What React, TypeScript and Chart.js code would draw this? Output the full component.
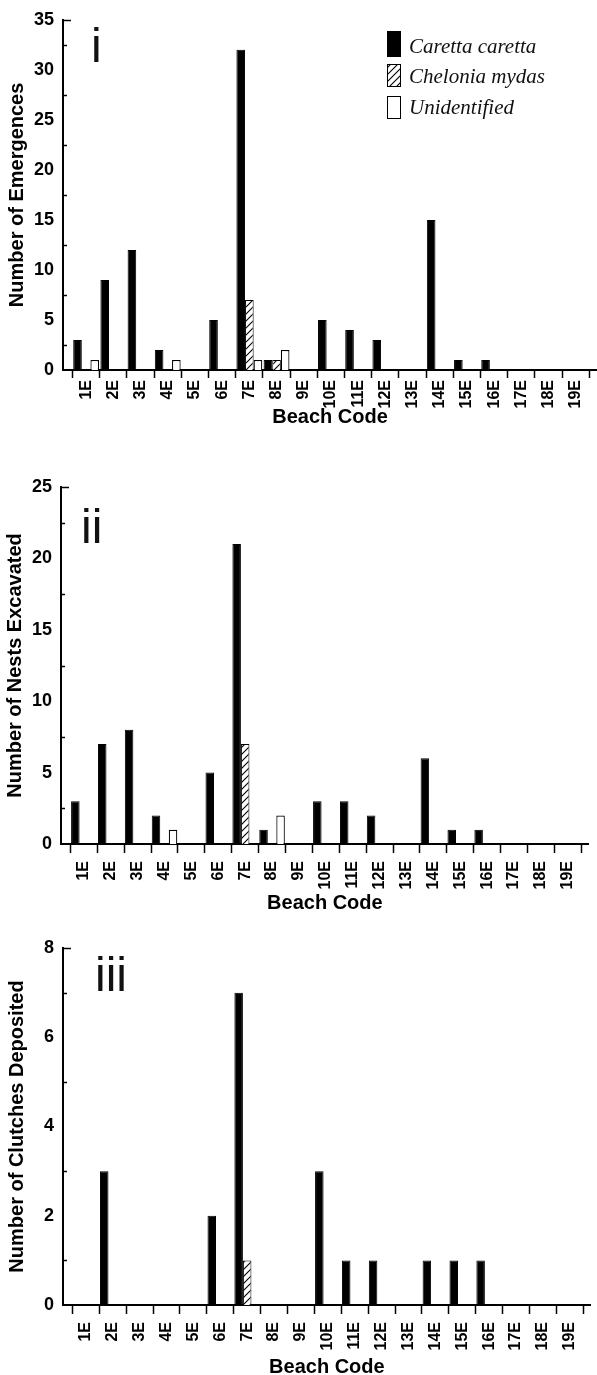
import React, { useEffect, useRef } from 'react';
import { Chart, registerables } from 'chart.js';

Chart.register(...registerables);

// ---------- data ----------
const BEACHES = ['1E', '2E', '3E', '4E', '5E', '6E', '7E', '8E', '9E', '10E', '11E', '12E', '13E', '14E', '15E', '16E', '17E', '18E', '19E'];
const SERIES = ['Caretta caretta', 'Chelonia mydas', 'Unidentified'];

const EMERG_CARETTA = [3, 9, 12, 2, 0, 5, 32, 1, 0, 5, 4, 3, 0, 15, 1, 1, 0, 0, 0];
const EMERG_CHELONIA = [0, 0, 0, 0, 0, 0, 7, 1, 0, 0, 0, 0, 0, 0, 0, 0, 0, 0, 0];
const EMERG_UNIDENT = [1, 0, 0, 1, 0, 0, 1, 2, 0, 0, 0, 0, 0, 0, 0, 0, 0, 0, 0];

const NESTS_CARETTA = [3, 7, 8, 2, 0, 5, 21, 1, 0, 3, 3, 2, 0, 6, 1, 1, 0, 0, 0];
const NESTS_CHELONIA = [0, 0, 0, 0, 0, 0, 7, 0, 0, 0, 0, 0, 0, 0, 0, 0, 0, 0, 0];
const NESTS_UNIDENT = [0, 0, 0, 1, 0, 0, 0, 2, 0, 0, 0, 0, 0, 0, 0, 0, 0, 0, 0];

const CLUTCH_CARETTA = [0, 3, 0, 0, 0, 2, 7, 0, 0, 3, 1, 1, 0, 1, 1, 1, 0, 0, 0];
const CLUTCH_CHELONIA = [0, 0, 0, 0, 0, 0, 1, 0, 0, 0, 0, 0, 0, 0, 0, 0, 0, 0, 0];
const CLUTCH_UNIDENT = [0, 0, 0, 0, 0, 0, 0, 0, 0, 0, 0, 0, 0, 0, 0, 0, 0, 0, 0];

const Y_TITLES = ['Number of Emergences', 'Number of Nests Excavated', 'Number of Clutches Deposited'];
const X_TITLE = 'Beach Code';
const PANEL_LABELS = ['i', 'ii', 'iii'];
const Y_MAX = [35, 25, 8];
const Y_MINOR = [2.5, 2.5, 1];
const Y_MAJOR = [5, 5, 2];

const PANEL_DATA = [
  [EMERG_CARETTA, EMERG_CHELONIA, EMERG_UNIDENT],
  [NESTS_CARETTA, NESTS_CHELONIA, NESTS_UNIDENT],
  [CLUTCH_CARETTA, CLUTCH_CHELONIA, CLUTCH_UNIDENT],
];

// ---------- layout ----------
const X_MIN = 0.15;
const X_MAX = 19.78;
const Y_AXIS_W = 63;
const SANS = "'Liberation Sans', Arial, Helvetica, sans-serif";
const SERIF = "'Liberation Serif', 'Times New Roman', serif";

const LAYOUT = [
  { top: 0, left: 0, height: 428, padTop: 15, xAxisH: 58, tickLen: 8, labelPad: 2, titlePad: 1, numX: 91, numY: 62, legend: true },
  { top: 445, left: -2, height: 475, padTop: 42, xAxisH: 76, tickLen: 9, labelPad: 8, titlePad: 7, numX: 83, numY: 98, legend: false },
  { top: 925, left: 0, height: 450, padTop: 23, xAxisH: 70, tickLen: 9, labelPad: 8, titlePad: -2, numX: 95, numY: 66, legend: false },
];

function makeHatch(): CanvasPattern | string {
  const s = 7;
  const c = document.createElement('canvas');
  c.width = s;
  c.height = s;
  const g = c.getContext('2d');
  if (!g) return '#888';
  g.fillStyle = '#fff';
  g.fillRect(0, 0, s, s);
  g.strokeStyle = '#000';
  g.lineWidth = 1.1;
  g.beginPath();
  g.moveTo(-1, s + 1);
  g.lineTo(s + 1, -1);
  g.moveTo(-1, 1);
  g.lineTo(1, -1);
  g.moveTo(s - 1, s + 1);
  g.lineTo(s + 1, s - 1);
  g.stroke();
  return g.createPattern(c, 'repeat') || '#888';
}

function toPts(values: number[]) {
  return values.map((v, i) => ({ x: i + 1, y: v }));
}

function Panel({ idx }: { idx: number }) {
  const ref = useRef<HTMLCanvasElement>(null);
  const L = LAYOUT[idx];
  const width = 597;

  useEffect(() => {
    if (!ref.current) return;
    const hatch = makeHatch();
    const [car, che, uni] = PANEL_DATA[idx];
    const major = Y_MAJOR[idx];

    const decor = {
      id: 'decor' + idx,
      afterDraw(chart: any) {
        const ctx = chart.ctx as CanvasRenderingContext2D;
        const y = chart.scales.y;
        const left = chart.chartArea.left;
        ctx.save();
        // inward minor ticks and top cap on y axis
        ctx.strokeStyle = '#000';
        ctx.lineWidth = 1.5;
        y.ticks.forEach((t: any) => {
          const py = Math.round(y.getPixelForValue(t.value)) + 0.5;
          let len = 0;
          if (Math.abs(t.value - y.max) < 1e-9) len = 8;
          else if (Math.abs(t.value / major - Math.round(t.value / major)) > 1e-9) len = 4;
          if (len) {
            ctx.beginPath();
            ctx.moveTo(left, py);
            ctx.lineTo(left + len, py);
            ctx.stroke();
          }
        });
        // panel numeral
        ctx.fillStyle = '#111';
        ctx.font = `48px ${SANS}`;
        ctx.textAlign = 'left';
        ctx.textBaseline = 'alphabetic';
        ctx.fillText(PANEL_LABELS[idx], L.numX, L.numY);
        // legend
        if (L.legend) {
          const rows = [{ y: 31, h: 26, b: 53 }, { y: 64, h: 23, b: 83 }, { y: 96, h: 23, b: 114 }];
          chart.data.datasets.forEach((ds: any, i: number) => {
            const r = rows[i];
            ctx.fillStyle = ds.backgroundColor;
            ctx.fillRect(387, r.y, 14, r.h);
            ctx.strokeStyle = '#000';
            ctx.lineWidth = 1;
            ctx.strokeRect(387.5, r.y + 0.5, 13, r.h - 1);
            ctx.fillStyle = '#111';
            ctx.font = `italic 21px ${SERIF}`;
            ctx.textBaseline = 'alphabetic';
            ctx.fillText(ds.label, 409, r.b);
          });
        }
        ctx.restore();
      },
    };

    const chart = new Chart(ref.current, {
      type: 'bar',
      data: {
        datasets: [
          { label: SERIES[0], data: toPts(car), backgroundColor: '#000', borderColor: '#000', borderWidth: 1 },
          { label: SERIES[1], data: toPts(che), backgroundColor: hatch as any, borderColor: '#000', borderWidth: 1 },
          { label: SERIES[2], data: toPts(uni), backgroundColor: '#fff', borderColor: '#000', borderWidth: 1.2 },
        ] as any,
      },
      options: {
        responsive: false,
        animation: false,
        devicePixelRatio: 1,
        layout: { padding: { top: L.padTop, left: 0, right: 0, bottom: 0 } },
        datasets: { bar: { categoryPercentage: 0.95, barPercentage: 1 } } as any,
        plugins: { legend: { display: false }, tooltip: { enabled: false } },
        scales: {
          x: {
            type: 'linear',
            min: X_MIN,
            max: X_MAX,
            offset: false,
            afterBuildTicks: (s: any) => {
              s.ticks = BEACHES.map((_, i) => ({ value: i + 1 }));
            },
            afterFit: (s: any) => {
              s.height = L.xAxisH;
            },
            ticks: {
              autoSkip: false,
              minRotation: 90,
              maxRotation: 90,
              padding: L.labelPad,
              color: '#000',
              font: { family: SANS, size: 16, weight: 'bold' },
              callback: (v: any) => BEACHES[Math.round(Number(v)) - 1] ?? '',
            },
            grid: { display: true, drawOnChartArea: false, drawTicks: true, tickLength: L.tickLen, tickWidth: 1.5, tickColor: '#000', color: '#000' },
            border: { display: true, color: '#000', width: 2 },
            title: {
              display: true,
              text: X_TITLE,
              color: '#000',
              font: { family: SANS, size: 20, weight: 'bold', lineHeight: 1 },
              padding: { top: 0, bottom: L.titlePad },
            },
          } as any,
          y: {
            type: 'linear',
            min: 0,
            max: Y_MAX[idx],
            afterFit: (s: any) => {
              s.width = Y_AXIS_W;
            },
            ticks: {
              stepSize: Y_MINOR[idx],
              autoSkip: false,
              padding: 9,
              color: '#000',
              font: { family: SANS, size: 18, weight: 'bold' },
              callback: (v: any) => {
                const n = Number(v);
                return Math.abs(n / major - Math.round(n / major)) < 1e-9 ? String(n) : '';
              },
            },
            grid: { display: false, drawTicks: false },
            border: { display: true, color: '#000', width: 2 },
            title: {
              display: true,
              text: Y_TITLES[idx],
              color: '#000',
              font: { family: SANS, size: 20, weight: 'bold', lineHeight: 1 },
              padding: { top: 7, bottom: 0 },
            },
          } as any,
        },
      },
      plugins: [decor],
    });
    return () => chart.destroy();
  }, [idx]);

  return (
    <canvas
      ref={ref}
      width={width}
      height={L.height}
      style={{ position: 'absolute', left: L.left, top: L.top, width, height: L.height, display: 'block' }}
    />
  );
}

export default function App() {
  return (
    <div style={{ position: 'absolute', left: 0, top: 0, width: 597, height: 1375, background: '#fff', overflow: 'hidden' }}>
      <Panel idx={0} />
      <Panel idx={1} />
      <Panel idx={2} />
    </div>
  );
}
